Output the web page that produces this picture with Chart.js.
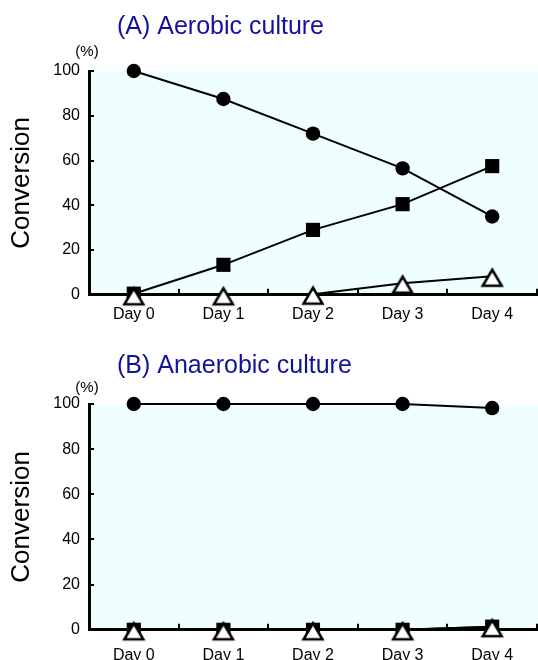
<!DOCTYPE html>
<html>
<head>
<meta charset="utf-8">
<script src="https://cdn.jsdelivr.net/npm/chart.js@4.4.1/dist/chart.umd.min.js"></script>
<style>
  html, body { margin: 0; padding: 0; background: #fff; overflow: hidden; }
  body { width: 538px; height: 660px; position: relative; }
  .panel { position: absolute; left: 0; width: 538px; }
  #panelA { top: 0; height: 341px; }
  #panelB { top: 334px; height: 353px; }
</style>
</head>
<body>
<div class="panel" id="panelA"><canvas id="chartA" width="538" height="341"></canvas></div>
<div class="panel" id="panelB"><canvas id="chartB" width="538" height="353"></canvas></div>
<script>
// Data
const days = ['Day 0', 'Day 1', 'Day 2', 'Day 3', 'Day 4'];

const aerobicCircle = [100, 87.5, 72, 56.5, 35];
const aerobicSquare = [0.5, 13.4, 29, 40.5, 57.5];
const aerobicTriangle = [0, 0, 0.3, 5.2, 8.3];

const anaerobicCircle = [100, 100, 100, 100, 98.2];
const anaerobicSquare = [0, 0, 0, 0, 1.4];
const anaerobicTriangle = [0, 0, 0, 0, 1.4];

const yTicks = [0, 20, 40, 60, 80, 100];

Chart.defaults.font.family = '"Liberation Sans", Arial, Helvetica, sans-serif';
Chart.defaults.color = '#000';

// open triangle marker, centred on its box like the original
const triMarker = document.createElement('canvas');
triMarker.width = 30;
triMarker.height = 25;
(function () {
    const t = triMarker.getContext('2d');
    t.beginPath();
    t.moveTo(15, 6);
    t.lineTo(24.5, 22);
    t.lineTo(5.5, 22);
    t.closePath();
    t.fillStyle = '#fff';
    t.fill();
    t.lineWidth = 2.5;
    t.lineJoin = 'miter';
    t.strokeStyle = '#000';
    t.stroke();
})();

// light cyan plot background
const bgPlugin = {
    id: 'plotBg',
    beforeDraw(chart) {
        const a = chart.chartArea;
        const ctx = chart.ctx;
        ctx.save();
        ctx.fillStyle = '#effefe';
        ctx.fillRect(a.left, a.top, chart.width - a.left, a.bottom - a.top);
        ctx.restore();
    }
};

// panel heading and unit label
function textPlugin(title, titleY, unitY) {
    return {
        id: 'panelText',
        afterDraw(chart) {
            const ctx = chart.ctx;
            ctx.save();
            ctx.fillStyle = '#12129c';
            ctx.font = '25px "Liberation Sans", Arial, sans-serif';
            ctx.textAlign = 'left';
            ctx.textBaseline = 'alphabetic';
            ctx.fillText(title, 117, titleY);
            ctx.fillStyle = '#000';
            ctx.font = '15px "Liberation Sans", Arial, sans-serif';
            ctx.textAlign = 'center';
            ctx.textBaseline = 'middle';
            ctx.fillText('(%)', 87, unitY);
            ctx.restore();
        }
    };
}

function makeSeries(circle, square, triangle) {
    const base = {
        borderColor: '#000',
        borderWidth: 2,
        pointBorderColor: '#000',
        clip: false,
        tension: 0
    };
    return [
        Object.assign({}, base, {
            label: 'triangle',
            data: triangle,
            pointStyle: triMarker,
            pointRadius: 12
        }),
        Object.assign({}, base, {
            label: 'square',
            data: square,
            pointStyle: 'rect',
            pointRadius: 10,
            pointBackgroundColor: '#000',
            pointBorderWidth: 0
        }),
        Object.assign({}, base, {
            label: 'circle',
            data: circle,
            pointStyle: 'circle',
            pointRadius: 7.2,
            pointBackgroundColor: '#000',
            pointBorderWidth: 0
        })
    ];
}

function makeChart(id, series, pad, labelPad, title, titleY, unitY) {
    return new Chart(document.getElementById(id), {
        type: 'line',
        data: { labels: days, datasets: series },
        options: {
            responsive: false,
            animation: false,
            layout: { padding: pad, autoPadding: false },
            plugins: {
                legend: { display: false },
                tooltip: { enabled: false }
            },
            scales: {
                x: {
                    type: 'category',
                    offset: true,
                    grid: {
                        offset: true,
                        drawOnChartArea: false,
                        drawTicks: true,
                        tickLength: -6,
                        color: '#000',
                        lineWidth: 2
                    },
                    border: { color: '#000', width: 3 },
                    ticks: { font: { size: 16 }, padding: labelPad, color: '#000' }
                },
                y: {
                    min: 0,
                    max: 100,
                    afterBuildTicks(scale) {
                        scale.ticks = yTicks.map(v => ({ value: v }));
                    },
                    afterFit(scale) {
                        scale.width = 89;
                    },
                    grid: {
                        drawOnChartArea: false,
                        drawTicks: true,
                        tickLength: -5,
                        color: '#000',
                        lineWidth: 2
                    },
                    border: { color: '#000', width: 3 },
                    ticks: { font: { size: 16 }, padding: 14, color: '#000' },
                    title: {
                        display: true,
                        text: 'Conversion',
                        font: { size: 26 },
                        color: '#000',
                        padding: { top: 6, bottom: 0 }
                    }
                }
            }
        },
        plugins: [bgPlugin, textPlugin(title, titleY, unitY)]
    });
}

makeChart('chartA', makeSeries(aerobicCircle, aerobicSquare, aerobicTriangle),
    { top: 71, bottom: 0, left: 0, right: 1 }, 16.5, '(A) Aerobic culture', 34, 52);
makeChart('chartB', makeSeries(anaerobicCircle, anaerobicSquare, anaerobicTriangle),
    { top: 70, bottom: 0, left: 0, right: 1 }, 22, '(B) Anaerobic culture', 39, 54);
</script>
</body>
</html>
